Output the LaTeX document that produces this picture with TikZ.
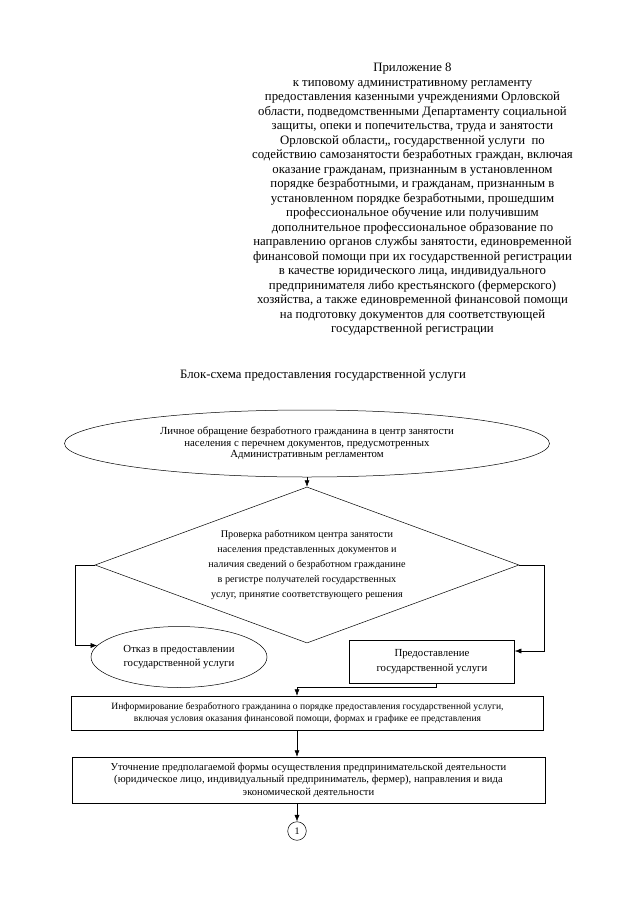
\documentclass[tikz,border=0pt]{standalone}
\usepackage{fontspec}
\setmainfont{Liberation Serif}
\usetikzlibrary{shapes.geometric, arrows.meta}

\begin{document}
\begin{tikzpicture}[x=1pt, y=-1pt,
  oval/.style={ellipse, draw=black, line width=0.5pt, inner sep=0pt, align=center},
  decision/.style={diamond, draw=black, line width=0.5pt, inner sep=0pt, align=center},
  stepbox/.style={rectangle, draw=black, line width=0.5pt, inner sep=0pt, align=center},
  arr/.style={-{Latex[length=6.5pt, width=5pt]}, line width=0.5pt}]

  \useasboundingbox (0,0) rectangle (639,905);

  % Header
  \node[align=center, inner sep=0pt, font=\fontsize{12.8}{14.5}\selectfont] (annex) at (412.5,199.5) {Приложение 8\\
    к типовому административному регламенту\\
    предоставления казенными учреждениями Орловской\\
    области, подведомственными Департаменту социальной\\
    защиты, опеки и попечительства, труда и занятости\\
    Орловской области,, государственной услуги~ по\\
    содействию самозанятости безработных граждан, включая\\
    оказание гражданам, признанным в установленном\\
    порядке безработными, и гражданам, признанным в\\
    установленном порядке безработными, прошедшим\\
    профессиональное обучение или получившим\\
    дополнительное профессиональное образование по\\
    направлению органов службы занятости, единовременной\\
    финансовой помощи при их государственной регистрации\\
    в качестве юридического лица, индивидуального\\
    предпринимателя либо крестьянского (фермерского)\\
    хозяйства, а также единовременной финансовой помощи\\
    на подготовку документов для соответствующей\\
    государственной регистрации};
  \node[inner sep=0pt, font=\fontsize{12.8}{14.5}\selectfont] (title) at (323,375) {Блок-схема предоставления государственной услуги};

  % Nodes
  \node[oval, minimum width=485pt, minimum height=67pt, font=\fontsize{10.8}{11.7}\selectfont] (appeal) at (307,443.5) {Личное обращение безработного гражданина в центр занятости\\ населения с перечнем документов, предусмотренных\\ Административным регламентом};
  \node[decision, minimum width=424pt, minimum height=156pt, aspect=2.72, font=\fontsize{10.2}{15.2}\selectfont] (check) at (307,565) {Проверка работником центра занятости\\ населения представленных документов и\\ наличия сведений о безработном гражданине\\ в регистре получателей государственных\\ услуг, принятие соответствующего решения};
  \node[oval, minimum width=176pt, minimum height=61pt, font=\fontsize{10.8}{14.8}\selectfont] (refuse) at (179,657) {Отказ в предоставлении\\ государственной услуги};
  \node[stepbox, minimum width=165pt, minimum height=43pt, font=\fontsize{10.8}{14.8}\selectfont] (grant) at (432,662) {Предоставление\\ государственной услуги};
  \node[stepbox, minimum width=472pt, minimum height=34pt, font=\fontsize{9.6}{11.7}\selectfont] (inform) at (307.5,713) {Информирование безработного гражданина о порядке предоставления государственной услуги,\\ включая условия оказания финансовой помощи, формах и графике ее представления};
  \node[stepbox, minimum width=473pt, minimum height=46pt, font=\fontsize{10.6}{12.5}\selectfont] (detail) at (308.5,780) {Уточнение предполагаемой формы осуществления предпринимательской деятельности\\ (юридическое лицо, индивидуальный предприниматель, фермер), направления и вида\\ экономической деятельности};
  \node[circle, draw=black, line width=0.5pt, minimum size=18.6pt, inner sep=0pt, font=\fontsize{10}{12}\selectfont] (link) at (297,831) {1};
  \coordinate (spine) at (297,0);

  % Arrows
  \draw[arr] (appeal) -- (check);
  \draw[arr] (check.west) -- ++(-19.6,0) |- (refuse.172);
  \draw[arr] (check.east) -- ++(25.2,0) |- ([yshift=11pt]grant.east);
  \draw[arr] ([xshift=4.5pt]grant.south) -- ++(0,3) -| (inform.north -| spine);
  \draw[arr] (inform.south -| spine) -- (detail.north -| spine);
  \draw[arr] (detail.south -| spine) -- (link);

\end{tikzpicture}
\end{document}
